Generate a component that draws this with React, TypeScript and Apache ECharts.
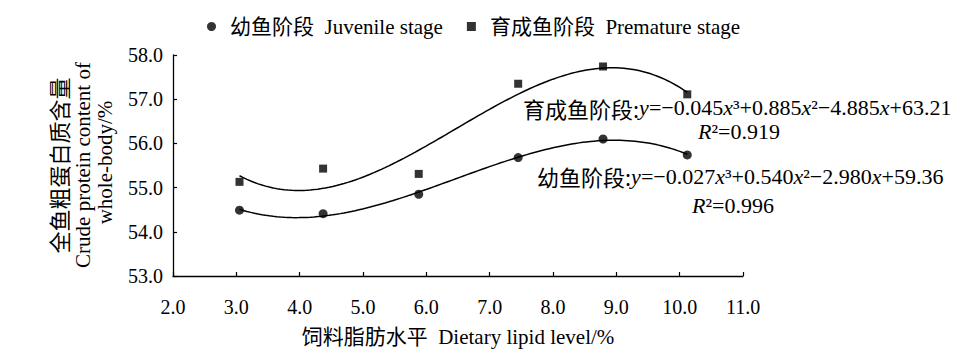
import { useEffect, useRef } from "react";
import * as echarts from "echarts";

// ---- data ----
const lipidLevel = [3.05, 4.37, 5.88, 7.45, 8.79, 10.12];
const juvenileProtein = [54.49, 54.41, 54.85, 55.68, 56.1, 55.74];
const prematureProtein = [55.13, 55.43, 55.31, 57.35, 57.74, 57.11];
const seriesNames = ["幼鱼阶段  Juvenile stage", "育成鱼阶段  Premature stage"];
const xAxisRange = [2, 11];
const yAxisRange = [53, 58];
const yAxisTitle = ["全鱼粗蛋白质含量", "Crude protein content of", "whole-body/%"];
const xAxisTitle = "饲料脂肪水平  Dietary lipid level/%";
const prematureEquation = { stage: "育成鱼阶段", coef: ["−0.045", "+0.885", "−4.885", "+63.21"], r2: "0.919" };
const juvenileEquation = { stage: "幼鱼阶段", coef: ["−0.027", "+0.540", "−2.980", "+59.36"], r2: "0.996" };

const SERIF = "'Liberation Serif', 'Times New Roman', serif";
const CJK = "'Noto Sans CJK SC', sans-serif";
const MIXED = "'Liberation Serif', 'Noto Sans CJK SC', serif";

// least-squares cubic trendline (like a spreadsheet polynomial trendline)
function cubicFit(xs: number[], ys: number[]): number[] {
  const n = 4;
  const A: number[][] = Array.from({ length: n }, () => new Array(n + 1).fill(0));
  for (let k = 0; k < xs.length; k++) {
    for (let i = 0; i < n; i++) {
      for (let j = 0; j < n; j++) A[i][j] += Math.pow(xs[k], i + j);
      A[i][n] += ys[k] * Math.pow(xs[k], i);
    }
  }
  for (let c = 0; c < n; c++) {
    let p = c;
    for (let r = c + 1; r < n; r++) if (Math.abs(A[r][c]) > Math.abs(A[p][c])) p = r;
    const tmp = A[c];
    A[c] = A[p];
    A[p] = tmp;
    for (let r = 0; r < n; r++) {
      if (r === c) continue;
      const f = A[r][c] / A[c][c];
      for (let k = c; k <= n; k++) A[r][k] -= f * A[c][k];
    }
  }
  return A.map((row, i) => row[n] / row[i]);
}

function trendline(xs: number[], ys: number[]): number[][] {
  const c = cubicFit(xs, ys);
  const x0 = Math.min(...xs);
  const x1 = Math.max(...xs);
  const pts: number[][] = [];
  const steps = 120;
  for (let i = 0; i <= steps; i++) {
    const x = x0 + ((x1 - x0) * i) / steps;
    pts.push([x, c[0] + c[1] * x + c[2] * x * x + c[3] * x * x * x]);
  }
  return pts;
}

function equationText(eq: { stage: string; coef: string[] }): string {
  return `{c|${eq.stage}:}{i|y}{n|=${eq.coef[0]}}{i|x}{n|³${eq.coef[1]}}{i|x}{n|²${eq.coef[2]}}{i|x}{n|${eq.coef[3]}}`;
}

const richStyles = {
  c: { fontFamily: CJK, fontSize: 22, lineHeight: 18, fill: "#000" },
  i: { fontFamily: SERIF, fontStyle: "italic", fontSize: 22, lineHeight: 18, fill: "#000" },
  n: { fontFamily: SERIF, fontSize: 22, lineHeight: 18, fill: "#000" },
};

export default function App() {
  const ref = useRef<HTMLDivElement>(null);

  useEffect(() => {
    if (!ref.current) return;
    const chart = echarts.init(ref.current, undefined, { renderer: "svg" });

    const axisCommon = {
      type: "value" as const,
      splitLine: { show: false },
      axisLine: { show: true, lineStyle: { color: "#000", width: 1.3 } },
      axisTick: { show: true, inside: true, length: 4, lineStyle: { color: "#000", width: 1.2 } },
    };

    chart.setOption({
      animation: false,
      backgroundColor: "#ffffff",
      textStyle: { fontFamily: SERIF },
      grid: { left: 173, right: 225, top: 55, bottom: 88 },
      legend: {
        left: 202,
        top: 11,
        itemWidth: 9,
        itemHeight: 9,
        itemGap: 24,
        selectedMode: false,
        data: [
          { name: seriesNames[0], icon: "circle" },
          { name: seriesNames[1], icon: "rect" },
        ],
        textStyle: { fontSize: 21, fontFamily: MIXED, color: "#000", padding: [0, 0, 0, 9] },
      },
      xAxis: {
        ...axisCommon,
        min: xAxisRange[0],
        max: xAxisRange[1],
        interval: 1,
        axisLabel: {
          color: "#000",
          fontSize: 20,
          fontFamily: SERIF,
          margin: 21,
          formatter: (v: number) => v.toFixed(1),
        },
        name: xAxisTitle,
        nameLocation: "middle",
        nameGap: 50,
        nameTextStyle: { fontSize: 21, fontFamily: MIXED, color: "#000" },
      },
      yAxis: {
        ...axisCommon,
        min: yAxisRange[0],
        max: yAxisRange[1],
        interval: 1,
        axisLabel: {
          color: "#000",
          fontSize: 20,
          fontFamily: SERIF,
          margin: 10,
          formatter: (v: number) => v.toFixed(1),
        },
      },
      series: [
        {
          type: "line",
          data: trendline(lipidLevel, juvenileProtein),
          showSymbol: false,
          symbol: "none",
          silent: true,
          lineStyle: { color: "#000", width: 1.5 },
          z: 2,
        },
        {
          type: "line",
          data: trendline(lipidLevel, prematureProtein),
          showSymbol: false,
          symbol: "none",
          silent: true,
          lineStyle: { color: "#000", width: 1.5 },
          z: 2,
        },
        {
          type: "scatter",
          name: seriesNames[0],
          symbol: "circle",
          symbolSize: 9,
          itemStyle: { color: "#000" },
          data: lipidLevel.map((x, i) => [x, juvenileProtein[i]]),
          z: 5,
        },
        {
          type: "scatter",
          name: seriesNames[1],
          symbol: "rect",
          symbolSize: 8,
          itemStyle: { color: "#000" },
          data: lipidLevel.map((x, i) => [x, prematureProtein[i]]),
          z: 5,
        },
      ],
      graphic: [
        {
          type: "text",
          x: 57.5,
          y: 165.5,
          rotation: Math.PI / 2,
          style: { text: yAxisTitle[0], fontSize: 22, fontFamily: CJK, fill: "#000", align: "center", verticalAlign: "middle" },
        },
        {
          type: "text",
          x: 83,
          y: 165,
          rotation: Math.PI / 2,
          style: { text: yAxisTitle[1], fontSize: 21, fontFamily: SERIF, fill: "#000", align: "center", verticalAlign: "middle" },
        },
        {
          type: "text",
          x: 105,
          y: 162.5,
          rotation: Math.PI / 2,
          style: { text: yAxisTitle[2], fontSize: 21, fontFamily: SERIF, fill: "#000", align: "center", verticalAlign: "middle" },
        },
        {
          type: "text",
          x: 523,
          y: 107.5,
          style: { text: equationText(prematureEquation), rich: richStyles, align: "left", verticalAlign: "middle" },
        },
        {
          type: "text",
          x: 739,
          y: 131,
          style: { text: `{i|R}{n|²=${prematureEquation.r2}}`, rich: richStyles, align: "center", verticalAlign: "middle" },
        },
        {
          type: "text",
          x: 537,
          y: 176,
          style: { text: equationText(juvenileEquation), rich: richStyles, align: "left", verticalAlign: "middle" },
        },
        {
          type: "text",
          x: 733,
          y: 205,
          style: { text: `{i|R}{n|²=${juvenileEquation.r2}}`, rich: richStyles, align: "center", verticalAlign: "middle" },
        },
      ],
    });

    return () => chart.dispose();
  }, []);

  return (
    <div
      ref={ref}
      style={{ position: "fixed", left: 0, top: 0, width: 968, height: 364, background: "#fff" }}
    />
  );
}
